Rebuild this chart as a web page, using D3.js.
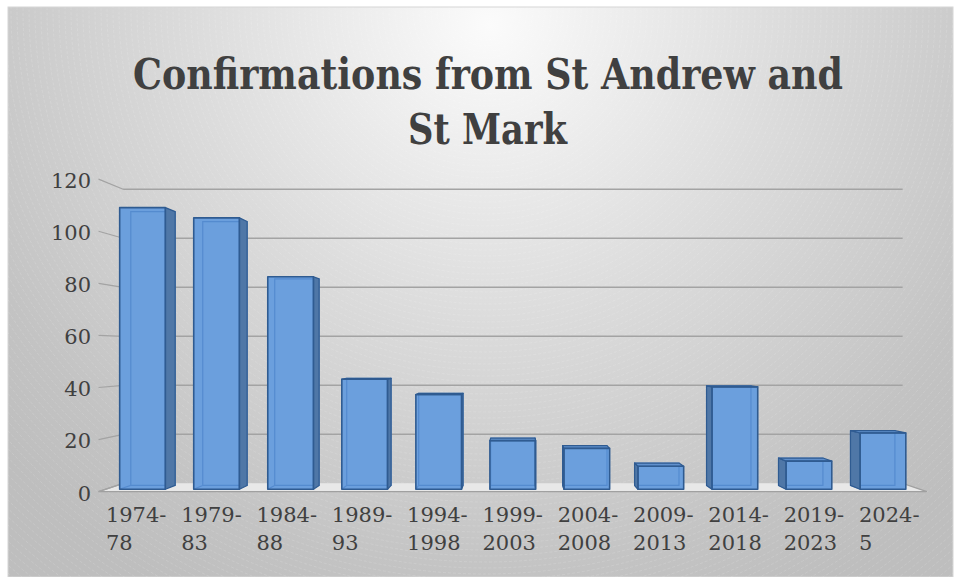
<!DOCTYPE html>
<html><head><meta charset="utf-8">
<script src="https://cdn.jsdelivr.net/npm/d3@7"></script>
<style>html,body{margin:0;padding:0;background:#fff;} svg{display:block}</style>
</head><body><svg id="c" width="956" height="577"></svg>
<script>
// ---- data ----
const categories = ["1974-78","1979-83","1984-88","1989-93","1994-1998","1999-2003","2004-2008","2009-2013","2014-2018","2019-2023","2024-5"];
const values = [110,106,83,43,37,19,16,9,40,11,22];
const yTicks = [0,20,40,60,80,100,120];
const titleLines = ["Confirmations from St Andrew and","St Mark"];

const svg = d3.select("#c");
const VP = {x:516, y:351};
const DEPTH = {floorFront:1.017, barFront:1, barBack:0.972, wall:0.957};
const x = d3.scaleBand().domain(categories).range([105.5,920]).paddingInner(0.383).paddingOuter(0.1915);
const y = d3.scaleLinear().domain([0,120]).range([489.3,182]);
const P = (px,py,s) => [VP.x+(px-VP.x)*s, VP.y+(py-VP.y)*s];
const pts = a => a.map(p=>p.join(",")).join(" ");

// ---- background ----
const defs = svg.append("defs");
const g = defs.append("radialGradient").attr("id","bg").attr("gradientUnits","userSpaceOnUse")
  .attr("cx",490).attr("cy",25).attr("r",650);
g.append("stop").attr("offset","0").attr("stop-color","#fbfbfb");
g.append("stop").attr("offset","0.45").attr("stop-color","#dcdcdc");
g.append("stop").attr("offset","0.85").attr("stop-color","#c3c3c3");
g.append("stop").attr("offset","1").attr("stop-color","#bebebe");
defs.append("clipPath").attr("id","clip").append("rect").attr("x",8).attr("y",7).attr("width",945).attr("height",570);

svg.append("rect").attr("x",8).attr("y",7).attr("width",945).attr("height",570)
  .attr("fill","url(#bg)").attr("stroke","#d6d6d6");
const pat = svg.append("g").attr("clip-path","url(#clip)");
pat.selectAll("circle").data(d3.range(30,1000,6)).join("circle")
  .attr("cx",485).attr("cy",10).attr("r",d=>d)
  .attr("fill","none").attr("stroke","#ffffff").attr("stroke-opacity",0.22)
  .attr("stroke-width",0.6).attr("stroke-dasharray","3,2");

// ---- title ----
const title = svg.append("g").attr("fill","#404040")
  .attr("font-family","'DejaVu Serif Condensed','DejaVu Serif',serif").attr("font-weight","bold");
title.append("text").attr("x",488).attr("y",89).attr("text-anchor","middle").attr("font-size",43)
  .attr("textLength",710).attr("lengthAdjust","spacingAndGlyphs").text(titleLines[0]);
title.append("text").attr("x",487.5).attr("y",144).attr("text-anchor","middle").attr("font-size",43)
  .attr("textLength",159).attr("lengthAdjust","spacingAndGlyphs").text(titleLines[1]);

// ---- floor, walls, gridlines ----
const [x0,x1] = x.range();
const floor = [P(x0,y(0),DEPTH.floorFront),P(x1,y(0),DEPTH.floorFront),P(x1,y(0),DEPTH.wall),P(x0,y(0),DEPTH.wall)];
svg.append("polygon").attr("points",pts(floor)).attr("fill","#e8e8e8").attr("stroke","none");
svg.append("polyline").attr("points",pts([floor[3],floor[0],floor[1],floor[2]]))
  .attr("fill","none").attr("stroke","#a0a0a0").attr("stroke-width",1.3);

const grid = svg.append("g").attr("stroke","#a3a3a3").attr("stroke-width",1.5);
yTicks.filter(v=>v>0).forEach(v=>{
  const a=P(x0,y(v),DEPTH.wall), b=P(x1,y(v),DEPTH.wall);
  grid.append("line").attr("x1",a[0]).attr("y1",a[1]).attr("x2",b[0]).attr("y2",b[1]);
});
yTicks.forEach(v=>{
  const a=P(x0,y(v),DEPTH.floorFront), b=P(x0,y(v),DEPTH.wall);
  grid.append("line").attr("x1",a[0]).attr("y1",a[1]).attr("x2",b[0]).attr("y2",b[1]).attr("stroke-width",1.2);
});

// ---- axis labels ----
const lab = svg.append("g").attr("font-family","'DejaVu Serif',serif").attr("font-size",21).attr("fill","#404040");
yTicks.forEach(v=>{
  lab.append("text").attr("x",91).attr("y",P(x0,y(v),DEPTH.floorFront)[1]+1.5)
    .attr("dy","0.35em").attr("text-anchor","end").text(v);
});
categories.forEach(c=>{
  const i = c.indexOf("-");
  const l1 = c.slice(0,i+1), l2 = c.slice(i+1);
  const cx = P(x(c)+x.bandwidth()/2,y(0),DEPTH.floorFront)[0];
  const t = lab.append("text");
  const s1 = t.append("tspan").attr("y",522).text(l1);
  const w = s1.node().getComputedTextLength();
  const sx = cx - w/2;
  s1.attr("x",sx);
  t.append("tspan").attr("x",sx).attr("y",550).text(l2);
});

// ---- bars ----
const bw = x.bandwidth();
const bars = svg.append("g");
categories.forEach((c,i)=>{
  const v = values[i];
  const xl=x(c), xr=xl+bw, yt=y(v), yb=y(0);
  const f=DEPTH.barFront, k=DEPTH.barBack;
  const FTL=P(xl,yt,f),FTR=P(xr,yt,f),FBR=P(xr,yb,f),FBL=P(xl,yb,f);
  const BTL=P(xl,yt,k),BTR=P(xr,yt,k),BBR=P(xr,yb,k),BBL=P(xl,yb,k);
  const gb = bars.append("g");
  gb.append("polygon").attr("points",pts([FTL,FTR,FBR,FBL])).attr("fill","#6b9fdd");
  // back edges seen through the translucent front
  gb.append("polyline").attr("points",pts([FBL,BBL,BTL,BTR,BBR,BBL]))
    .attr("fill","none").attr("stroke","#4f86cc").attr("stroke-width",1.2).attr("stroke-opacity",0.8);
  const left = (xl+xr)/2 < VP.x;
  const side = left ? [FTR,BTR,BBR,FBR] : [FTL,BTL,BBL,FBL];
  gb.append("polygon").attr("points",pts(side)).attr("fill","#4f77a7")
    .attr("stroke","#2f5b91").attr("stroke-width",1.2).attr("stroke-linejoin","round");
  if (yt > VP.y) {
    gb.append("polygon").attr("points",pts([FTL,FTR,BTR,BTL])).attr("fill","#6190cc")
      .attr("stroke","#2f5b91").attr("stroke-width",1.2).attr("stroke-linejoin","round");
  }
  gb.append("polygon").attr("points",pts([FTL,FTR,FBR,FBL])).attr("fill","none")
    .attr("stroke","#2f5b91").attr("stroke-width",1.6).attr("stroke-linejoin","round");
});
</script></body></html>
